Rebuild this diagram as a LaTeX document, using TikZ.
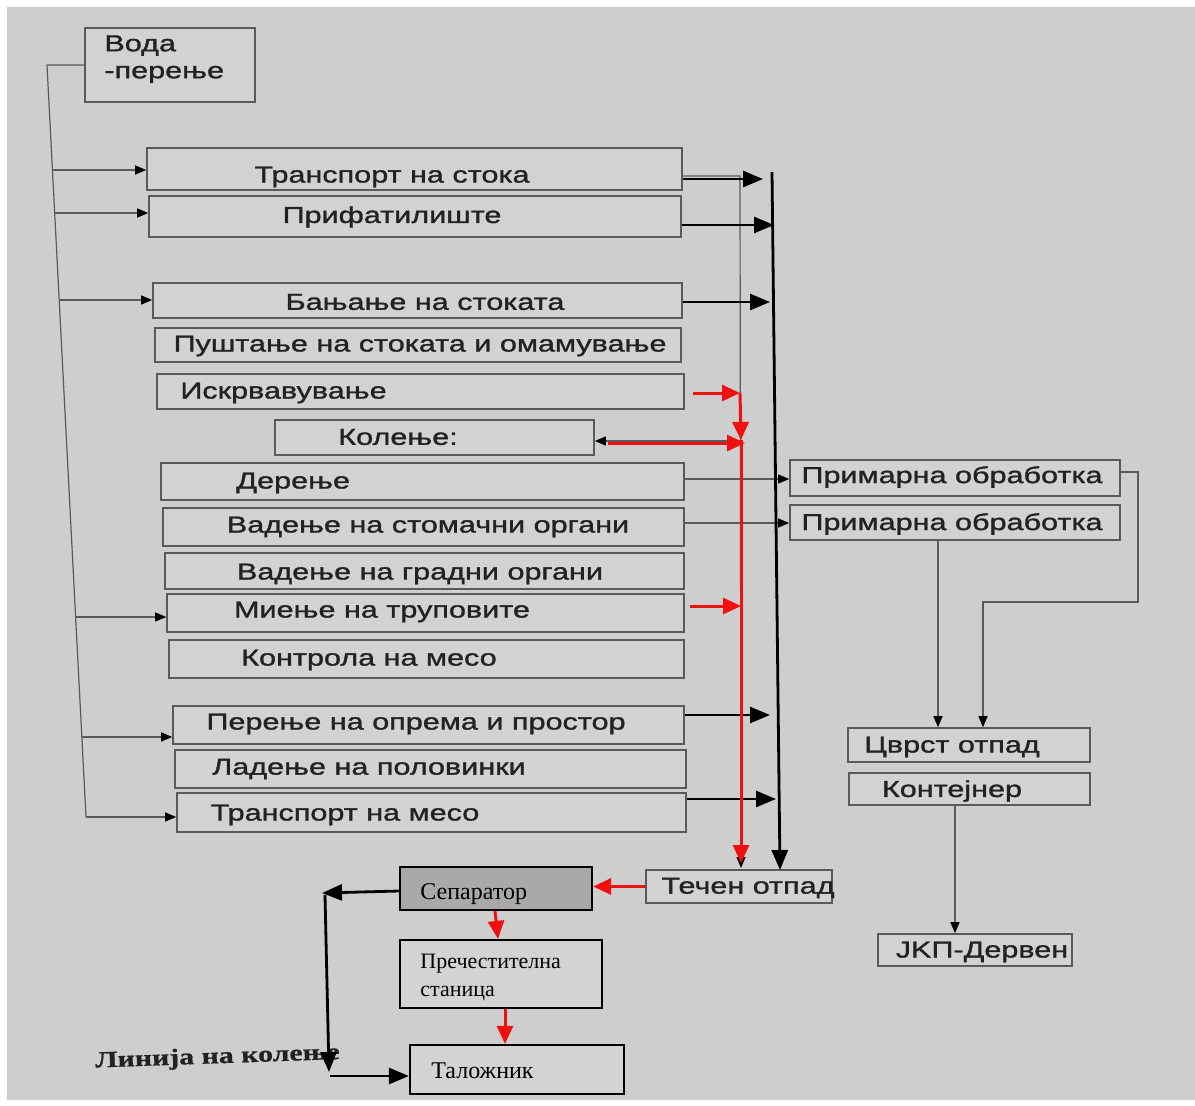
\documentclass[tikz,border=0pt]{standalone}
\usepackage{fontspec}
\setmainfont{Liberation Sans}[FakeStretch=1.33,FakeBold=1.3]
\newfontfamily\serifcyr{Liberation Serif}
\newfontfamily\serifcyrb{Liberation Serif Bold}[FakeStretch=1.3,FakeBold=0.8]
\usetikzlibrary{arrows.meta,fit}
\definecolor{bg}{HTML}{CECECE}
\definecolor{boxfill}{HTML}{D2D2D2}
\definecolor{boxline}{HTML}{5A5A5A}
\definecolor{txt}{HTML}{222222}
\definecolor{sepfill}{HTML}{ABA8A8}
\definecolor{lightfill}{HTML}{D4D2D2}
\definecolor{redarrow}{HTML}{F01010}
\tikzset{
  box/.style={draw=boxline, line width=0.8pt, inner sep=0pt, fill=boxfill},
  sbox/.style={draw=black, line width=1.1pt, inner sep=0pt},
  lbl/.style={font=\fontsize{11.5}{13.5}\selectfont, text=txt, inner sep=0pt},
  slbl/.style={font=\serifcyr\fontsize{11}{14}\selectfont, text=black, inner sep=0pt, align=left},
  thin/.style={draw=boxline, line width=0.6pt},
  thinarr/.style={thin, -{Triangle[length=5.5pt,width=4.5pt,color=black]}},
  blk/.style={black, line width=1.4pt, -{Triangle[length=10pt,width=8pt]}},
  redarr/.style={redarrow, line width=1.5pt, -{Triangle[length=9pt,width=8pt]}}
}
\begin{document}
\begin{tikzpicture}[x=0.5pt,y=-0.5pt]
\useasboundingbox (0,0) rectangle (1195,1105);
\fill[white] (0,0) rectangle (1195,1105);
\fill[bg] (7,7) rectangle (1195,1100);

% ---- left column boxes
\node[box, fit={(85,28)(255,102)}] (voda) {};
\node[lbl, anchor=north west, align=left] (tvoda) at (104,35) {Вода\\-перење};

\node[box, fit={(147,148)(682,190)}] (b1) {};
\node[lbl] (t1) at (392,177) {Транспорт на стока};
\node[box, fit={(149,196)(681,237)}] (b2) {};
\node[lbl] (t2) at (392,217) {Прифатилиште};
\node[box, fit={(153,283)(682,318)}] (b3) {};
\node[lbl] (t3) at (425,302) {Бањање на стоката};
\node[box, fit={(155,328)(681,362)}] (b4) {};
\node[lbl] (t4) at (420,346) {Пуштање на стоката и омамување};
\node[box, fit={(157,374)(684,409)}] (b5) {};
\node[lbl, anchor=west] (t5) at (180,393) {Искрвавување};
\node[box, fit={(275,420)(594,455)}] (b6) {};
\node[lbl] (t6) at (398,437) {Колење:};
\node[box, fit={(161,463)(684,500)}] (b7) {};
\node[lbl, anchor=west] (t7) at (236,483) {Дерење};
\node[box, fit={(163,508)(684,546)}] (b8) {};
\node[lbl] (t8) at (428,527) {Вадење на стомачни органи};
\node[box, fit={(165,553)(684,589)}] (b9) {};
\node[lbl] (t9) at (420,574) {Вадење на градни органи};
\node[box, fit={(167,594)(684,632)}] (b10) {};
\node[lbl] (t10) at (382,612) {Миење на труповите};
\node[box, fit={(169,640)(684,678)}] (b11) {};
\node[lbl] (t11) at (369,660) {Контрола на месо};
\node[box, fit={(173,706)(684,744)}] (b12) {};
\node[lbl] (t12) at (416,724) {Перење на опрема и простор};
\node[box, fit={(175,750)(686,788)}] (b13) {};
\node[lbl] (t13) at (369,769) {Ладење на половинки};
\node[box, fit={(177,793)(686,832)}] (b14) {};
\node[lbl] (t14) at (345,815) {Транспорт на месо};

% ---- right boxes
\node[box, fit={(790,460)(1120,496)}] (pr1) {};
\node[lbl] (tpr1) at (952,477) {Примарна обработка};
\node[box, fit={(790,505)(1120,540)}] (pr2) {};
\node[lbl] (tpr2) at (952,524) {Примарна обработка};
\node[box, fit={(848,728)(1090,762)}] (cv) {};
\node[lbl] (tcv) at (952,747) {Цврст отпад};
\node[box, fit={(849,773)(1090,805)}] (kon) {};
\node[lbl] (tkon) at (952,791) {Контејнер};
\node[box, fit={(878,934)(1072,966)}] (jkp) {};
\node[lbl] (tjkp) at (982,952) {JKП-Дервен};
\node[box, fit={(646,870)(832,903)}] (tech) {};
\node[lbl] (ttech) at (748,888) {Течен отпад};

% ---- bottom serif boxes
\node[sbox, fill=sepfill, fit={(400,867)(592,910)}] (sep) {};
\node[slbl, font=\serifcyr\fontsize{12}{14}\selectfont, anchor=west] (tsep) at (420,894) {Сепаратор};
\node[sbox, fill=lightfill, fit={(400,940)(602,1008)}] (prec) {};
\node[slbl, anchor=west] (tprec) at (420,977) {Пречестителна\\станица};
\node[sbox, fill=lightfill, fit={(410,1045)(624,1094)}] (tal) {};
\node[slbl, font=\serifcyr\fontsize{12}{14}\selectfont, anchor=west] (ttal) at (431,1071) {Таложник};
\node[font=\serifcyrb\fontsize{11.5}{13}\selectfont, text=txt, anchor=west, rotate=2, inner sep=0pt] (lin) at (95,1062) {Линија на колење};

% ---- water distribution line
\coordinate (vt) at (47,65);
\coordinate (vb) at (86,817);
\coordinate (p1) at (52.4,170);
\coordinate (p2) at (54.7,213);
\coordinate (p3) at (59.2,300);
\coordinate (p10) at (75.6,617);
\coordinate (p12) at (81.8,737);
\draw[thin] (voda.west) -- (vt) -- (vb);
\draw[thinarr] (p1) -- (b1.west |- p1);
\draw[thinarr] (p2) -- (b2.west |- p2);
\draw[thinarr] (p3) -- (b3.west |- p3);
\draw[thinarr] (p10) -- (b10.west |- p10);
\draw[thinarr] (p12) -- (b12.west |- p12);
\draw[thinarr] (vb) -- (b14.west |- vb);

% ---- grey thin line from transport to liquid waste
\coordinate (g1) at (740,176);
\coordinate (g2) at (741,868);
\draw[thinarr] (b1.east |- g1) -- (g1) -- (g2);
\coordinate (k1) at (740,441);
\draw[thinarr] (k1) -- (b6.east |- k1);

% ---- thin to primary processing
\draw[thinarr] (b7.east |- 0,479) -- (pr1.west |- 0,479);
\draw[thinarr] (b8.east |- 0,523) -- (pr2.west |- 0,523);
\coordinate (r1) at (1138,472);
\coordinate (r2) at (1138,602);
\coordinate (r3) at (983,602);
\draw[thinarr] (pr1.east |- r1) -- (r1) -- (r2) -- (r3) -- (cv.north -| r3);
\draw[thinarr] (pr2.south -| 938,0) -- (cv.north -| 938,0);
\draw[thinarr] (kon.south -| 955,0) -- (jkp.north -| 955,0);

% ---- main black collector
\coordinate (vtop) at (772,172);
\coordinate (vbot) at (780,870);
\draw[blk] (vtop) -- (vbot);
\coordinate (e1) at (763,179);
\coordinate (e2) at (774,225);
\coordinate (e3) at (770,302);
\coordinate (e12) at (770,715);
\coordinate (e14) at (776,799);
\draw[blk] (b1.east |- e1) -- (e1);
\draw[blk] (b2.east |- e2) -- (e2);
\draw[blk] (b3.east |- e3) -- (e3);
\draw[blk] (b12.east |- e12) -- (e12);
\draw[blk] (b14.east |- e14) -- (e14);

% ---- red connectors
\coordinate (ra) at (693,393);
\coordinate (rb) at (740,393);
\coordinate (rc) at (741,440);
\coordinate (rd) at (741,863);
\coordinate (re) at (745,443);
\coordinate (rf) at (608,443);
\coordinate (rg) at (690,606);
\coordinate (rh) at (741,606);
\draw[redarr] (ra) -- (rb);
\draw[redarr] (rb) -- (rc);
\draw[redarr] (rc) -- (rd);
\draw[redarr] (rf) -- (re);
\draw[redarr] (rg) -- (rh);
\draw[redarr] (tech.west) -- (sep.east |- tech.west);
\draw[redarr] (sep.south -| 495,0) -- (prec.north -| 498,0);
\draw[redarr] (prec.south -| 505,0) -- (tal.north -| 505,0);

% ---- black bottom loop
\coordinate (s1) at (322,893);
\coordinate (s2) at (325,895);
\coordinate (s3) at (329,1072);
\coordinate (s4) at (330,1076);
\draw[blk] (sep.west |- 0,891) -- (s1);
\draw[blk] (s2) -- (s3);
\draw[blk] (s4) -- (tal.west |- s4);
\end{tikzpicture}
\end{document}
